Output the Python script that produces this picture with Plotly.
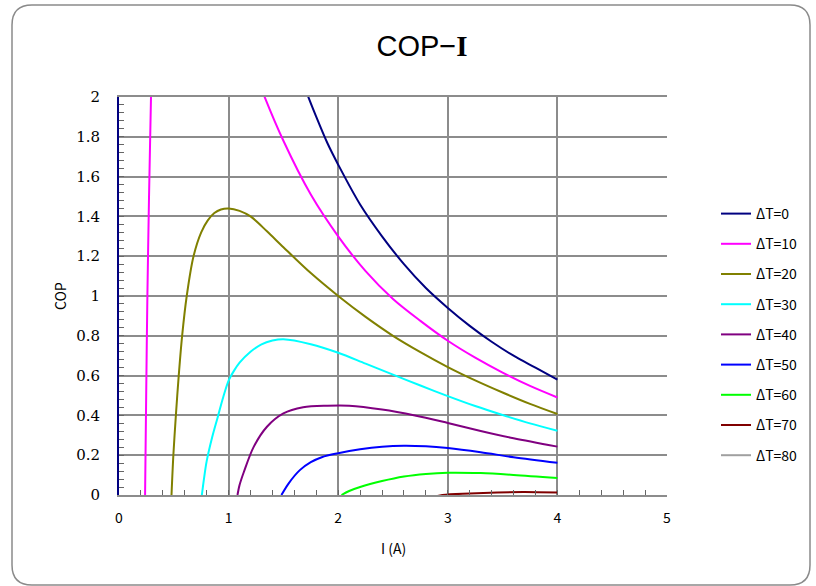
import plotly.graph_objects as go

# ---- data (I in A, COP) ----
labels = ["ΔT=0", "ΔT=10", "ΔT=20", "ΔT=30", "ΔT=40", "ΔT=50", "ΔT=60", "ΔT=70", "ΔT=80"]
colors = ["#000080", "#FF00FF", "#808000", "#00FFFF", "#800080", "#0000FF", "#00FF00", "#800000", "#A0A0A0"]

I0 = [1.6, 1.7, 1.8, 1.9, 2.0, 2.2, 2.4, 2.6, 2.8, 3.0, 3.2, 3.4, 3.6, 3.8, 4.0]
C0 = [2.20, 2.04, 1.90, 1.77, 1.66, 1.46, 1.30, 1.16, 1.04, 0.94, 0.85, 0.77, 0.70, 0.64, 0.58]

I10 = [0.238, 0.248, 0.259, 0.274, 0.292, 0.31, 0.4, 0.6, 0.8, 1.0, 1.1, 1.2, 1.3, 1.5, 1.75,
       2.0, 2.25, 2.5, 2.75, 3.0, 3.25, 3.5, 3.75, 4.0]
C10 = [0.0, 0.5, 1.0, 1.5, 2.0, 2.5, 3.5, 3.6, 3.0, 2.55, 2.36, 2.19, 2.04, 1.78, 1.51,
       1.30, 1.125, 0.985, 0.875, 0.775, 0.69, 0.615, 0.548, 0.49]

I20 = [0.479, 0.496, 0.519, 0.545, 0.576, 0.618, 0.68, 0.75, 0.81, 0.87, 0.93, 1.0, 1.1, 1.2, 1.35,
       1.5, 1.75, 2.0, 2.25, 2.5, 2.75, 3.0, 3.25, 3.5, 3.75, 4.0]
C20 = [0.0, 0.2, 0.4, 0.6, 0.8, 1.0, 1.2, 1.32, 1.38, 1.417, 1.435, 1.44, 1.428, 1.40, 1.325,
       1.245, 1.115, 1.0, 0.895, 0.80, 0.718, 0.643, 0.576, 0.515, 0.458, 0.407]

I30 = [0.756, 0.775, 0.80, 0.85, 0.90, 0.95, 1.0, 1.05, 1.1, 1.2, 1.3, 1.4, 1.5, 1.75,
       2.0, 2.25, 2.5, 2.75, 3.0, 3.25, 3.5, 3.75, 4.0]
C30 = [0.0, 0.08, 0.17, 0.29, 0.39, 0.49, 0.575, 0.625, 0.665, 0.72, 0.757, 0.776, 0.783, 0.758,
       0.715, 0.66, 0.605, 0.55, 0.497, 0.447, 0.402, 0.36, 0.323]

I40 = [1.081, 1.10, 1.14, 1.23, 1.35, 1.50, 1.68, 1.9, 2.1, 2.4, 2.7, 3.0, 3.3, 3.6, 4.0]
C40 = [0.0, 0.05, 0.117, 0.243, 0.343, 0.41, 0.441, 0.449, 0.449, 0.43, 0.40, 0.362, 0.322, 0.285, 0.243]

I50 = [1.482, 1.55, 1.65, 1.75, 1.85, 2.0, 2.2, 2.4, 2.6, 2.8, 3.0, 3.3, 3.6, 4.0]
C50 = [0.0, 0.06, 0.125, 0.165, 0.19, 0.21, 0.23, 0.243, 0.248, 0.245, 0.236, 0.215, 0.19, 0.162]

I60 = [2.03, 2.1, 2.2, 2.4, 2.6, 2.8, 3.0, 3.3, 3.6, 4.0]
C60 = [0.0, 0.02, 0.04, 0.07, 0.093, 0.106, 0.112, 0.11, 0.101, 0.085]

I70 = [2.0, 2.3, 2.6, 2.8, 2.95, 3.2, 3.45, 3.7, 4.0]
C70 = [-0.15, -0.09, -0.045, -0.02, 0.0, 0.008, 0.013, 0.015, 0.012]

I80 = [2.5, 3.0, 3.5, 4.0]
C80 = [-0.12, -0.07, -0.05, -0.045]

x_ticks = [0, 1, 2, 3, 4, 5]
y_ticks = [0, 0.2, 0.4, 0.6, 0.8, 1, 1.2, 1.4, 1.6, 1.8, 2]

series_x = [I0, I10, I20, I30, I40, I50, I60, I70, I80]
series_y = [C0, C10, C20, C30, C40, C50, C60, C70, C80]

# ---- layout geometry (pixels) ----
W, H = 816, 586
L, R, T, B = 119, 149, 97, 91
PW, PH = W - L - R, H - T - B

def xp(px):
    return (px - L) / PW

def yp(py):
    return (H - B - py) / PH

SANS = "Noto Sans CJK JP"

fig = go.Figure()
for i, (xs, ys) in enumerate(zip(series_x, series_y)):
    fig.add_trace(go.Scatter(
        x=xs, y=ys, mode="lines", name=labels[i], legendgroup=labels[i],
        line=dict(color=colors[i], width=2, shape="spline", smoothing=0.9),
    ))

# rounded outer border
x0, y0, x1, y1, r = 12, 5, 810, 585, 20
path = (
    f"M {xp(x0 + r)} {yp(y0)} L {xp(x1 - r)} {yp(y0)} "
    f"Q {xp(x1)} {yp(y0)} {xp(x1)} {yp(y0 + r)} "
    f"L {xp(x1)} {yp(y1 - r)} Q {xp(x1)} {yp(y1)} {xp(x1 - r)} {yp(y1)} "
    f"L {xp(x0 + r)} {yp(y1)} Q {xp(x0)} {yp(y1)} {xp(x0)} {yp(y1 - r)} "
    f"L {xp(x0)} {yp(y0 + r)} Q {xp(x0)} {yp(y0)} {xp(x0 + r)} {yp(y0)} Z"
)
fig.add_shape(type="path", path=path, xref="paper", yref="paper",
              line=dict(color="#8a8a8a", width=1.5), layer="below")

fig.update_layout(
    width=W, height=H,
    margin=dict(l=L, r=R, t=T, b=B, pad=0),
    paper_bgcolor="white", plot_bgcolor="white",
    title=dict(text="COP−<span style='font-family:Liberation Serif'><b>I</b></span>",
               x=422 / W, xanchor="center", y=1 - 46 / H, yanchor="middle",
               font=dict(family="Liberation Sans", size=29, color="black")),
    showlegend=True,
    legend=dict(x=xp(716), xanchor="left", y=yp(198), yanchor="top",
                font=dict(family=SANS, size=14, color="black"),
                tracegroupgap=9, bgcolor="rgba(0,0,0,0)", itemwidth=30),
    annotations=[
        dict(text="COP", x=xp(60), y=yp(296), xref="paper", yref="paper",
             showarrow=False, textangle=-90, xanchor="center", yanchor="middle",
             font=dict(family=SANS, size=14, color="black")),
        dict(text="I (A)", x=xp(393), y=yp(548), xref="paper", yref="paper",
             showarrow=False, xanchor="center", yanchor="middle",
             font=dict(family=SANS, size=14, color="black")),
    ],
)

fig.update_xaxes(
    range=[0, 5], tickvals=x_ticks, ticktext=[str(v) for v in x_ticks],
    showgrid=True, gridcolor="#8c8c8c", gridwidth=1.5,
    showline=True, linecolor="#8c8c8c", linewidth=1.5, mirror=True,
    ticks="inside", ticklen=5, tickcolor="#666666", tickwidth=1,
    minor=dict(dtick=0.2, tick0=0, ticks="inside", ticklen=5, tickcolor="#666666", showgrid=False),
    zeroline=False, tickfont=dict(family=SANS, size=14, color="black"),
    ticklabelstandoff=9, fixedrange=True,
)
fig.update_yaxes(
    range=[0, 2], tickvals=y_ticks, ticktext=[f"{v:g}" for v in y_ticks],
    showgrid=True, gridcolor="#8c8c8c", gridwidth=1.5,
    showline=True, linecolor="#000080", linewidth=2, mirror=False,
    ticks="inside", ticklen=5, tickcolor="#666666", tickwidth=1,
    minor=dict(dtick=0.04, tick0=0, ticks="inside", ticklen=5, tickcolor="#666666", showgrid=False),
    zeroline=False, tickfont=dict(family="DejaVu Serif", size=15, color="black"),
    ticklabelstandoff=14, fixedrange=True,
)

fig.write_html("out.html", config={"displayModeBar": False},
               post_script="document.body.style.margin='0';")
